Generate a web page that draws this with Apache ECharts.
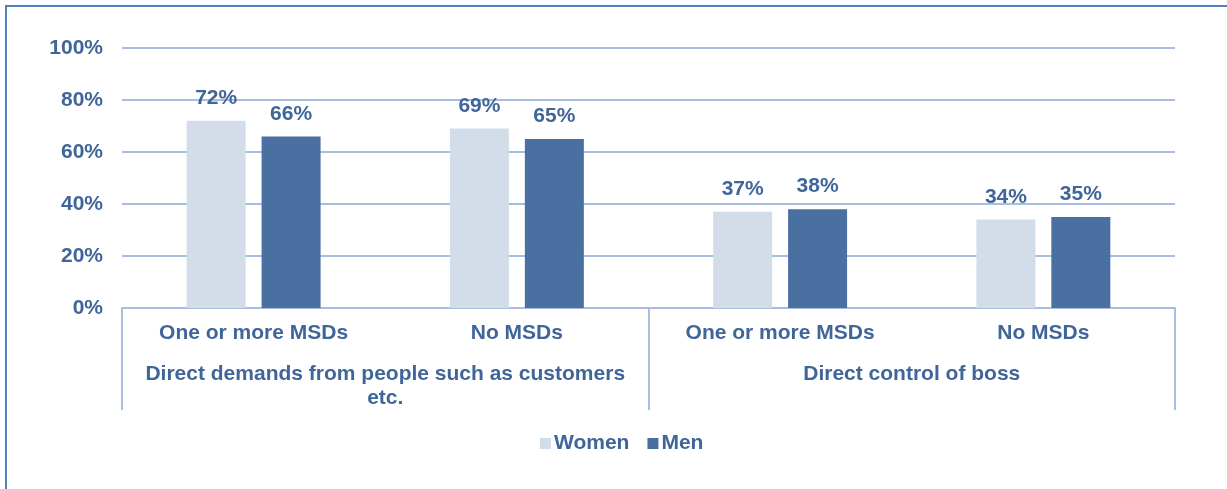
<!DOCTYPE html>
<html>
<head>
<meta charset="utf-8">
<script src="https://cdn.jsdelivr.net/npm/echarts@6/dist/echarts.min.js"></script>
<style>
html,body{margin:0;padding:0;background:#fff;}
#chart{width:1227px;height:489px;}
</style>
</head>
<body>
<div id="chart"></div>
<script>
var subCategories = ['One or more MSDs', 'No MSDs', 'One or more MSDs', 'No MSDs'];
var groupCategories = ['Direct demands from people such as customers\netc.', 'Direct control of boss'];
var seriesNames = ['Women', 'Men'];
var women = [72, 69, 37, 34];
var men = [66, 65, 38, 35];
var yTicks = [0, 20, 40, 60, 80, 100];

var textColor = '#3F6599';
var gridColor = '#A9BDE0';
var font = 'Liberation Sans, Arial, sans-serif';
var fs = 21;

var chart = echarts.init(document.getElementById('chart'));
chart.setOption({
  animation: false,
  textStyle: { fontFamily: font },
  graphic: [{
    type: 'rect',
    shape: { x: 6, y: 6, width: 1300, height: 600 },
    style: { fill: 'none', stroke: '#4F81BD', lineWidth: 2 },
    silent: true
  }],
  legend: {
    bottom: 35,
    left: 540,
    icon: 'rect',
    itemWidth: 11,
    itemHeight: 11,
    itemGap: 18,
    padding: 0,
    data: seriesNames,
    textStyle: { color: textColor, fontSize: fs, fontWeight: 'bold', fontFamily: font, padding: [0, 0, 0, -2] }
  },
  grid: { left: 122, right: 52, top: 48, bottom: 181 },
  yAxis: {
    type: 'value',
    min: yTicks[0],
    max: yTicks[yTicks.length - 1],
    interval: 20,
    axisLine: { show: false },
    axisTick: { show: false },
    axisLabel: { formatter: '{value}%', color: textColor, fontSize: fs, fontWeight: 'bold', margin: 19, fontFamily: font },
    splitLine: { lineStyle: { color: gridColor, width: 2 } }
  },
  xAxis: [{
    type: 'category',
    position: 'bottom',
    data: subCategories,
    axisLine: { lineStyle: { color: gridColor, width: 2 } },
    axisTick: { show: false },
    axisLabel: { color: textColor, fontSize: fs, fontWeight: 'bold', margin: 15, interval: 0, fontFamily: font }
  }, {
    type: 'category',
    position: 'bottom',
    data: groupCategories,
    axisLine: { show: false },
    axisTick: { show: true, length: 102, lineStyle: { color: gridColor, width: 2 } },
    axisLabel: { color: textColor, fontSize: fs, fontWeight: 'bold', margin: 54, lineHeight: 24, interval: 0, fontFamily: font }
  }],
  series: [{
    name: seriesNames[0],
    type: 'bar',
    xAxisIndex: 0,
    data: women,
    barWidth: 59,
    barGap: '27%',
    itemStyle: { color: '#D3DDE9' },
    label: { show: true, position: 'top', distance: 12, formatter: '{c}%', color: textColor, fontSize: fs, fontWeight: 'bold', fontFamily: font }
  }, {
    name: seriesNames[1],
    type: 'bar',
    xAxisIndex: 0,
    data: men,
    barWidth: 59,
    barGap: '27%',
    itemStyle: { color: '#4A70A1' },
    label: { show: true, position: 'top', distance: 12, formatter: '{c}%', color: textColor, fontSize: fs, fontWeight: 'bold', fontFamily: font }
  }]
});
</script>
</body>
</html>
